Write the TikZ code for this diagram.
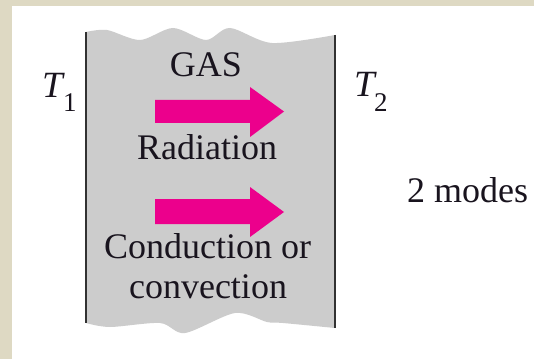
\documentclass[tikz,border=0pt]{standalone}
\usepackage{fontspec}
\setmainfont{Liberation Serif}
\definecolor{beige}{RGB}{222,217,195}
\definecolor{gasgray}{RGB}{204,204,204}
\definecolor{hotpink}{RGB}{236,0,140}
\definecolor{wallc}{RGB}{50,50,50}
\definecolor{txt}{RGB}{25,20,30}
\begin{document}
\begin{tikzpicture}[x=1pt,y=-1pt,
  lbl/.style={font=\fontsize{36}{40}\selectfont, text=txt, anchor=base, inner sep=0pt},
  tlbl/.style={font=\fontsize{37}{40}\selectfont\itshape, text=txt, anchor=base west, inner sep=0pt},
  sublbl/.style={font=\fontsize{27}{30}\selectfont, text=txt, anchor=base west, inner sep=0pt},
  wall/.style={draw=wallc, line width=1.6pt},
  heatarrow/.style={fill=hotpink}]
\useasboundingbox (0,0) rectangle (534,358);
\fill[white] (-5,-5) rectangle (540,364);
\fill[beige] (-5,-5) rectangle (540,6);
\fill[beige] (-5,-5) rectangle (12,364);
% gas region
\fill[gasgray] plot[smooth, tension=0.5] coordinates {(86,32) (107,30) (140,40) (173,28) (206,40) (230,28) (272,43) (335,35)}
  -- (335,328)
  -- plot[smooth, tension=0.5] coordinates {(335,328) (283,323) (267,322) (235,313) (185,333) (160,323) (110,327) (86,323)}
  -- cycle;
% walls
\coordinate (lwt) at (86,32);
\coordinate (lwb) at (86,323);
\coordinate (rwt) at (335,35);
\coordinate (rwb) at (335,328);
\draw[wall] (lwt) -- (lwb);
\draw[wall] (rwt) -- (rwb);
% arrows
\fill[heatarrow] (155,100) -- (250,100) -- (250,87) -- (284,111.5) -- (250,137) -- (250,123) -- (155,123) -- cycle;
\fill[heatarrow] (155,199) -- (250,199) -- (250,187) -- (284,212) -- (250,237) -- (250,224) -- (155,224) -- cycle;
% labels
\node[lbl] (gas) at (206,77) {GAS};
\node[lbl] (rad) at (207,159) {Radiation};
\node[lbl] (cond) at (207.5,258) {Conduction or};
\node[lbl] (conv) at (208,298) {convection};
\node[lbl, anchor=base west] (modes) at (407,202) {2 modes};
\node[tlbl] (t1) at (42,98) {T};
\node[sublbl] (s1) at (63,112) {1};
\node[tlbl] (t2) at (354,97) {T};
\node[sublbl] (s2) at (374,112) {2};
\end{tikzpicture}
\end{document}
